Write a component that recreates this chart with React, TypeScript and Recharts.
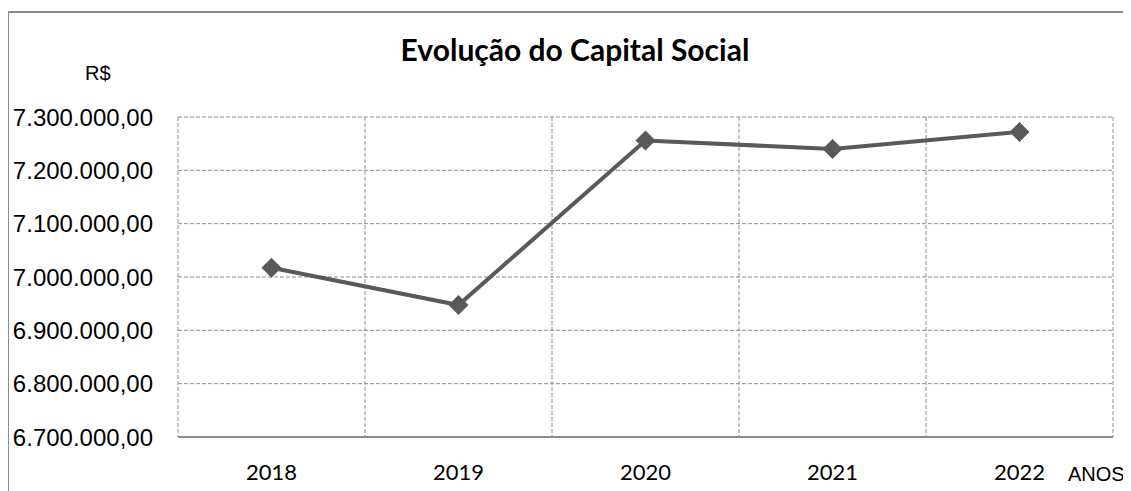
import { CartesianGrid, Line, LineChart, XAxis, YAxis } from "recharts";

const years = ["2018", "2019", "2020", "2021", "2022"];
const capital = [7017400, 6947500, 7256000, 7240000, 7272000];
const yTicks = [6700000, 6800000, 6900000, 7000000, 7100000, 7200000, 7300000];

const data = years.map((year, i) => ({ year, capital: capital[i] }));

const GRID = "#8c8c8c";
const LINE = "#595959";

function formatBRL(v: number) {
  return v.toLocaleString("pt-BR", { minimumFractionDigits: 2, maximumFractionDigits: 2 });
}

// diamond marker like the spreadsheet one
function Diamond(props: any) {
  const { cx, cy, index } = props;
  if (cx == null || cy == null) return <g key={index} />;
  const r = 10;
  return (
    <polygon
      key={index}
      points={`${cx},${cy - r} ${cx + r},${cy} ${cx},${cy + r} ${cx - r},${cy}`}
      fill={LINE}
    />
  );
}

export default function App() {
  // vertical grid lines sit on the category boundaries, not on the ticks
  const verticalLines = (props: any) => {
    const left = props?.offset?.left ?? 178;
    const width = props?.offset?.width ?? 935;
    const step = width / years.length;
    return Array.from({ length: years.length + 1 }, (_, i) => left + i * step);
  };

  return (
    <div style={{ position: "relative", width: 1123, height: 483, fontFamily: "'Liberation Sans', Arial, sans-serif" }}>
      {/* outer frame, cut off by the window on the right and bottom */}
      <div
        style={{
          position: "absolute",
          left: -1,
          top: 3,
          width: 1200,
          height: 600,
          border: `2px solid ${GRID}`,
          boxSizing: "border-box",
        }}
      />
      <div style={{ position: "absolute", left: -8, top: -8 }}>
        <LineChart width={1131} height={491} data={data} margin={{ top: 117, right: 18, bottom: 0, left: 0 }}>
          <CartesianGrid
            stroke={GRID}
            strokeDasharray="4 2"
            verticalCoordinatesGenerator={verticalLines}
          />
          <XAxis
            dataKey="year"
            scale="band"
            height={54}
            axisLine={{ stroke: GRID, strokeWidth: 2 }}
            tickLine={false}
            tickSize={0}
            tickMargin={27}
            tick={{ fill: "#000", fontSize: 22, fontFamily: "Lato, sans-serif" }}
          />
          <YAxis
            width={178}
            domain={[6700000, 7300000]}
            ticks={yTicks}
            tickFormatter={formatBRL}
            axisLine={false}
            tickLine={false}
            tickSize={0}
            tickMargin={25}
            tick={{ fill: "#000", fontSize: 24, fontFamily: "'Liberation Sans', Arial, sans-serif" }}
          />
          <Line
            type="linear"
            dataKey="capital"
            stroke={LINE}
            strokeWidth={4}
            dot={Diamond}
            activeDot={false}
            isAnimationActive={false}
          />
        </LineChart>
      </div>
      <div
        style={{
          position: "absolute",
          left: 575 - 8 - 250,
          width: 500,
          top: 31 - 8,
          textAlign: "center",
          fontFamily: "Lato, sans-serif",
          fontWeight: 700,
          fontSize: 30,
          lineHeight: "36px",
          color: "#000",
        }}
      >
        Evolução do Capital Social
      </div>
      <div style={{ position: "absolute", left: 85 - 8, top: 61 - 8, fontSize: 20, lineHeight: "24px", color: "#000" }}>
        R$
      </div>
      <div style={{ position: "absolute", left: 1068 - 8, top: 462 - 8, fontSize: 20, lineHeight: "24px", color: "#000" }}>
        ANOS
      </div>
    </div>
  );
}
